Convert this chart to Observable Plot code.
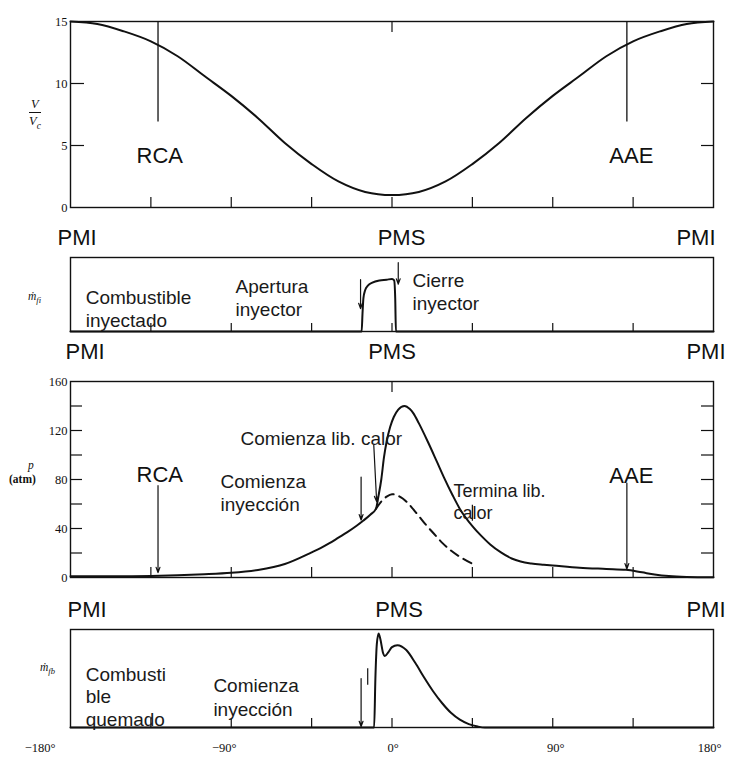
<!DOCTYPE html>
<html>
<head>
<meta charset="utf-8">
<script src="https://cdn.jsdelivr.net/npm/d3@7"></script>
<script src="https://cdn.jsdelivr.net/npm/@observablehq/plot@0.6"></script>
<style>
  body { margin: 0; background: #fff; }
  #chart { position: relative; width: 730px; height: 773px; font-family: "Liberation Sans", Arial, sans-serif; }
  #chart svg { position: absolute; left: 0; overflow: visible; }
  .ytitle { position: absolute; font-family: "Liberation Serif", serif; font-style: italic; color: #111; text-align: center; line-height: 1.15; }
  .ytitle sub { font-size: 0.75em; }
</style>
</head>
<body>
<div id="chart"></div>
<script>
// Crank angle (degrees) and cylinder volume relative to clearance volume
const volAngle = [-180,-165,-150,-135,-120,-105,-90,-75,-60,-45,-30,-15,0,15,30,45,60,75,90,105,120,135,150,165,180];
const volRatio = [15.0,14.8,14.2,13.4,12.2,10.6,9.0,7.2,5.2,3.5,2.1,1.25,1.0,1.25,2.1,3.5,5.2,7.2,9.0,10.6,12.2,13.4,14.2,14.8,15.0];

// Injection rate (normalised)
const injAngle = [-180,-17,-16.5,-16,-15,-13.5,-11,-7,-3,0,1.2,1.8,2.2,180];
const injRate  = [0,0,0.25,0.45,0.56,0.62,0.66,0.69,0.70,0.71,0.69,0.45,0,0];

// Cylinder pressure, firing (atm)
const presAngle = [-180,-150,-135,-120,-105,-90,-75,-60,-45,-40,-35,-30,-25,-20,-16,-12,-9,-7.5,-6,-4.5,-3,-1,1,3.5,7,10,12,15,20,25,29,34,38,45,50,55,61,67,72,78,85,90,105,120,131,140,147,155,165,180];
const presFiring = [1.0,1.0,1.2,1.8,2.6,3.8,6.2,11,20.5,24,28,32.5,37,42,46.5,51.5,56,67,80,98,111,123,131,137,140,137.5,134,126,111,95,82,67,56,42,34,27,20.5,15.5,13,11.4,10.4,9.8,8,7,6.3,4.2,2.5,1.2,0.5,0.2];

// Cylinder pressure, motored (atm)
const motAngle = [-9,-6,-3,0,3,6,10,14,19,23.5,28,33,39,46];
const presMotored = [56,62,66,68,67,64.5,59,52,43,35.7,28.5,22,16,10.5];

// Fuel burning rate (normalised)
const burnAngle = [-180,-10,-9.3,-8.5,-7.5,-6.5,-5,-4,-2,0,3,8,13,18,23,28,33,38,43,48,52,180];
const burnRate  = [0,0,0.5,0.85,0.96,0.9,0.76,0.73,0.77,0.82,0.84,0.79,0.66,0.51,0.37,0.25,0.15,0.08,0.035,0.01,0,0];

// Events (crank angle, degrees)
const eventRCA = -131;
const eventAAE = 131.5;

const tickAngles = [-135,-90,-45,0,45,90,135];
const axisLabels = ["\u2212180\u00b0","\u221290\u00b0","0\u00b0","90\u00b0","180\u00b0"];
const axisAngles = [-180,-90,0,90,180];

const zip = (xs, ys) => xs.map((x, i) => ({angle: x, value: ys[i]}));

const chart = document.getElementById("chart");
const W = 730, ML = 70, MR = 17, FW = W - ML - MR;
const INK = "#111";
const SANS = "Liberation Sans, Arial, sans-serif";
const SERIF = "Liberation Serif, Times New Roman, serif";

function panel({top, height, marginTop, marginBottom, yDomain, marks}) {
  const svg = Plot.plot({
    width: W, height, marginLeft: ML, marginRight: MR, marginTop, marginBottom,
    x: {domain: [-180, 180], axis: null},
    y: {domain: yDomain, axis: null},
    style: {background: "transparent", overflow: "visible", fontFamily: SANS, color: INK},
    marks
  });
  svg.style.top = top + "px";
  chart.append(svg);
}

// inward tick helpers
const bottomTicks = (fh, len) => Plot.tickX(tickAngles, {x: d => d, insetTop: fh - len, stroke: INK, strokeWidth: 1.2});
const topTick = (fh, len) => Plot.tickX([0], {x: d => d, insetBottom: fh - len, stroke: INK, strokeWidth: 1.2});
const leftTicks = (vals, len) => Plot.tickY(vals, {y: d => d, insetRight: FW - len, stroke: INK, strokeWidth: 1.2});
const rightTicks = (vals, len) => Plot.tickY(vals, {y: d => d, insetLeft: FW - len, stroke: INK, strokeWidth: 1.2});
const yLabels = (vals) => Plot.text(vals, {y: d => d, text: d => String(d), frameAnchor: "left", textAnchor: "end", dx: -3, fontFamily: SERIF, fontSize: 12.5, fill: INK});
const frame = () => Plot.frame({stroke: INK, strokeWidth: 1.4});

function dmpRow(dy, dxLeft, dxMid, dxRight) {
  const o = {fontSize: 22, fill: INK, fontFamily: SANS, dy, lineAnchor: "middle"};
  return [
    Plot.text(["PMI"], {...o, frameAnchor: "bottom-left", textAnchor: "start", dx: dxLeft}),
    Plot.text(["PMS"], {...o, frameAnchor: "bottom", textAnchor: "middle", dx: dxMid}),
    Plot.text(["PMI"], {...o, frameAnchor: "bottom-right", textAnchor: "end", dx: dxRight})
  ];
}

const note = (text, angle, value, extra = {}) =>
  Plot.text([text], {x: () => angle, y: () => value, text: d => d, textAnchor: "start", fontSize: 19, fill: "#1a1a1a", fontFamily: SANS, lineHeight: 1.22, ...extra});

const arrow = (a1, v1, a2, v2) =>
  Plot.arrow([{a1, v1, a2, v2}], {x1: "a1", y1: "v1", x2: "a2", y2: "v2", stroke: INK, strokeWidth: 1.2, headLength: 7, headAngle: 40});

// Panel 1: V/Vc
panel({
  top: 0, height: 250, marginTop: 21, marginBottom: 43, yDomain: [0, 15],
  marks: [
    frame(),
    bottomTicks(186, 10), topTick(186, 11),
    leftTicks([5, 10], 14), rightTicks([5, 10], 12),
    yLabels([0, 5, 10, 15]),
    Plot.ruleX([eventRCA, eventAAE], {x: d => d, y1: 15, y2: 6.9, stroke: INK, strokeWidth: 1.3}),
    Plot.line(zip(volAngle, volRatio), {x: "angle", y: "value", curve: "catmull-rom", stroke: INK, strokeWidth: 2}),
    note("RCA", -130, 4.3, {textAnchor: "middle", fontSize: 22, fill: INK}),
    note("AAE", 134, 4.3, {textAnchor: "middle", fontSize: 22, fill: INK}),
    ...dmpRow(30, -13, 9.5, 2)
  ]
});

// Panel 2: injection rate
panel({
  top: 250, height: 120, marginTop: 7, marginBottom: 39, yDomain: [0, 1],
  marks: [
    frame(),
    bottomTicks(74, 8),
    Plot.line(zip(injAngle, injRate), {x: "angle", y: "value", curve: "monotone-x", stroke: INK, strokeWidth: 2}),
    arrow(-17.6, 0.70, -17.6, 0.31),
    arrow(3.5, 0.93, 3.5, 0.64),
    note("Combustible\ninyectado", -171.5, 0.32),
    note("Apertura\ninyector", -87.6, 0.47),
    note("Cierre\ninyector", 11.5, 0.55),
    ...dmpRow(20, -5, 0, 12)
  ]
});

// Panel 3: cylinder pressure
panel({
  top: 370, height: 250, marginTop: 11, marginBottom: 43, yDomain: [0, 160],
  marks: [
    frame(),
    bottomTicks(196, 10), topTick(196, 11),
    leftTicks([20, 40, 60, 80, 100, 120, 140], 12), rightTicks([20, 40, 60, 80, 100, 120, 140], 12),
    yLabels([0, 40, 80, 120, 160]),
    Plot.line(zip(motAngle, presMotored), {x: "angle", y: "value", curve: "monotone-x", stroke: INK, strokeWidth: 2, strokeDasharray: "9,6"}),
    Plot.line(zip(presAngle, presFiring), {x: "angle", y: "value", curve: "monotone-x", stroke: INK, strokeWidth: 2}),
    arrow(eventRCA, 75, eventRCA, 4),
    arrow(eventAAE, 77, eventAAE, 7),
    arrow(-17.3, 82, -17.3, 47),
    arrow(-10.2, 108, -8.6, 62),
    Plot.ruleX([45], {x: d => d, y1: 59, y2: 46, stroke: INK, strokeWidth: 1.2}),
    note("RCA", -130, 85, {textAnchor: "middle", fontSize: 22, fill: INK}),
    note("AAE", 134, 84.5, {textAnchor: "middle", fontSize: 22, fill: INK}),
    note("Comienza lib. calor", -84.8, 114),
    note("Comienza\ninyección", -96, 70),
    note("Termina lib.\ncalor", 34.4, 62.5, {fontSize: 18}),
    ...dmpRow(32, -3, 7, 12)
  ]
});

// Panel 4: fuel burning rate
const axisDx = [-15, -7, 1, 3, -4];
panel({
  top: 620, height: 153, marginTop: 9, marginBottom: 46, yDomain: [0, 1],
  marks: [
    frame(),
    bottomTicks(98, 9),
    Plot.line(zip(burnAngle, burnRate), {x: "angle", y: "value", curve: "monotone-x", stroke: INK, strokeWidth: 2}),
    arrow(-17.3, 0.50, -17.3, 0.01),
    Plot.ruleX([-13.6], {x: d => d, y1: 0.60, y2: 0.43, stroke: INK, strokeWidth: 1.2}),
    note("Combusti\nble\nquemado", -171.5, 0.32, {lineHeight: 1.18}),
    note("Comienza\ninyección", -100, 0.32, {lineHeight: 1.3}),
    ...axisAngles.map((a, i) => Plot.text([axisLabels[i]], {
      x: () => a, text: d => d, frameAnchor: "bottom", lineAnchor: "middle", dy: 20, dx: axisDx[i],
      textAnchor: i === 0 ? "end" : "middle", fontFamily: SERIF, fontSize: 12.5, fill: INK
    }))
  ]
});

// Y-axis titles
function title(html, left, top, size) {
  const d = document.createElement("div");
  d.className = "ytitle";
  d.style.left = left + "px";
  d.style.top = top + "px";
  d.style.fontSize = size + "px";
  d.innerHTML = html;
  chart.append(d);
}
title('<div style="border-bottom:1px solid #111;padding:0 2px 1px">V</div><div style="padding-top:1px">V<sub>c</sub></div>', 29, 97, 12.5);
title('\u1e41<sub>fi</sub>', 28, 290, 11.5);
title('<div style="text-align:right;padding-right:2px;margin-bottom:1px"><i>p</i></div><div style="font-style:normal;font-weight:bold">(atm)</div>', 9, 459, 11.5);
title('\u1e41<sub>fb</sub>', 40, 661, 11.5);
</script>
</body>
</html>
